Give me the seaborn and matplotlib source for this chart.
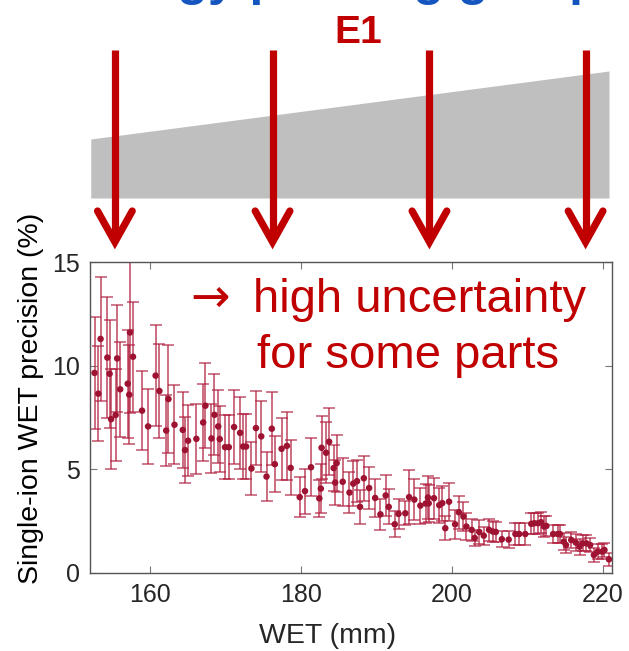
import numpy as np
import pandas as pd
import seaborn as sns
import matplotlib.pyplot as plt

# Single-ion WET precision vs WET
wet = [152.6, 153.1, 153.4, 154.3, 154.6, 154.8, 155.4, 155.6, 156.0, 157.0,
       157.2, 157.3, 157.7, 158.9, 159.7, 160.7, 161.2, 162.1, 162.4, 163.2,
       164.3, 164.6, 165.0, 166.1, 167.0, 167.3, 168.1, 168.5, 169.0, 169.2,
       169.9, 170.4, 171.1, 171.9, 172.3, 172.7, 173.4, 174.0, 174.7, 175.4,
       176.1, 176.5, 177.4, 178.1, 178.6, 179.8, 180.5, 181.3, 182.4, 182.6,
       182.7, 183.3, 183.7, 184.3, 184.5, 184.7, 185.5, 186.4, 186.9, 187.4,
       187.8, 188.3, 189.0, 189.8, 190.5, 191.2, 191.6, 192.4, 192.9, 193.8,
       194.3, 195.0, 195.8, 196.5, 196.8, 196.9, 197.6, 198.3, 198.7, 199.1,
       199.6, 200.4, 200.9, 201.5, 201.9, 202.6, 203.0, 203.6, 204.2, 204.9,
       205.4, 205.8, 206.6, 207.5, 208.4, 208.9, 209.7, 210.5, 210.9, 211.4,
       211.8, 212.2, 212.5, 213.4, 214.0, 214.3, 214.8, 215.1, 215.8, 216.4,
       216.9, 217.3, 217.8, 218.3, 218.8, 219.3, 219.9, 220.2, 220.8]
precision = [9.65, 8.65, 11.29, 10.39, 9.61, 7.42, 7.62, 10.35, 8.86, 9.13,
             8.60, 11.60, 10.43, 7.83, 7.07, 9.52, 8.78, 6.87, 8.39, 7.15,
             6.90, 5.93, 6.38, 6.47, 7.26, 8.07, 6.49, 7.63, 7.07, 6.46,
             6.07, 6.07, 7.04, 6.76, 6.10, 6.10, 5.04, 6.99, 6.59, 4.65,
             6.96, 5.25, 5.99, 6.13, 5.07, 3.66, 3.95, 5.10, 3.60, 4.07,
             6.04, 5.80, 6.33, 5.06, 4.36, 5.30, 4.40, 3.88, 4.31, 4.43,
             3.19, 4.57, 4.10, 3.62, 2.83, 3.74, 3.19, 2.35, 2.85, 2.88,
             3.66, 3.54, 3.25, 3.35, 3.64, 3.36, 3.61, 3.27, 3.37, 2.16,
             3.44, 2.35, 2.93, 2.72, 2.24, 2.08, 1.69, 1.98, 1.80, 2.08,
             2.00, 1.98, 1.63, 1.61, 1.88, 1.88, 1.88, 2.37, 2.40, 2.40,
             2.45, 2.24, 2.27, 1.88, 1.88, 1.88, 1.51, 1.35, 1.59, 1.47,
             1.27, 1.43, 1.43, 1.35, 0.87, 1.03, 1.03, 1.11, 0.66]
error = [2.70, 2.30, 3.00, 2.90, 2.60, 2.40, 2.20, 2.60, 2.30, 2.60,
         2.40, 3.90, 2.65, 1.90, 1.80, 2.45, 2.26, 1.73, 2.60, 1.90,
         1.85, 1.60, 1.70, 1.70, 1.85, 2.05, 1.65, 1.95, 1.75, 1.60,
         1.55, 1.55, 1.77, 1.75, 1.55, 1.55, 1.30, 1.78, 1.70, 1.20,
         1.77, 1.35, 1.50, 1.64, 1.33, 0.98, 1.09, 1.41, 0.90, 1.17,
         1.51, 1.47, 1.61, 1.11, 1.10, 1.38, 1.16, 1.00, 1.10, 1.00,
         0.83, 1.09, 1.00, 0.92, 0.76, 0.99, 0.85, 0.62, 0.71, 0.58,
         1.30, 0.99, 0.87, 0.94, 1.05, 0.90, 0.99, 0.85, 0.85, 0.58,
         0.92, 0.70, 0.80, 0.71, 0.67, 0.54, 0.40, 0.57, 0.44, 0.52,
         0.50, 0.50, 0.39, 0.40, 0.54, 0.54, 0.54, 0.50, 0.50, 0.50,
         0.50, 0.50, 0.49, 0.45, 0.45, 0.45, 0.40, 0.40, 0.40, 0.40,
         0.38, 0.38, 0.38, 0.35, 0.35, 0.35, 0.35, 0.35, 0.30]

x_ticks = [160, 180, 200, 220]
y_ticks = [0, 5, 10, 15]

# wedge (phantom) sketch and beam arrows above the plot, in WET units
wedge_wet = [152.1, 220.8]
wedge_top = [139, 71]        # pixel rows in the sketch panel
wedge_bottom = 198
arrow_wet = [155.3, 176.2, 197.0, 217.7]

df = pd.DataFrame({'wet': wet, 'precision': precision, 'error': error})

sns.set_style('ticks')
plt.rcParams['font.family'] = ['Liberation Sans', 'DejaVu Sans']

W, H = 629, 651
fig = plt.figure(figsize=(W / 100, H / 100), dpi=100)

def px(x, y):
    return x / W, 1 - y / H

red = '#C00000'
dot = '#9E1232'

ax = fig.add_axes([90 / W, 78 / H, 522 / W, 311 / H])
ax.errorbar(df['wet'], df['precision'], yerr=df['error'], fmt='none',
            ecolor='#B01E3E', alpha=0.65, elinewidth=1.4, capsize=4.5, capthick=1.3)
sns.scatterplot(data=df, x='wet', y='precision', ax=ax, color=dot, s=22,
                edgecolor='none', zorder=3)

ax.set_xlim(152, 221.2)
ax.set_ylim(0, 15)
ax.set_xticks(x_ticks)
ax.set_yticks(y_ticks)
for s in ax.spines.values():
    s.set_visible(True)
    s.set_color('#555555')
    s.set_linewidth(1.0)
ax.tick_params(direction='in', length=5, width=0.8, color='#777777',
               top=True, right=True, labelsize=18, labelcolor='#262626', pad=7)

ax.set_xlabel('WET (mm)', fontsize=20.5, color='#262626', va='top')
ax.set_ylabel('Single-ion WET precision (%)', fontsize=20.5, color='black')
ax.xaxis.set_label_coords((328 - 90) / 522, (573 - 623) / 311)
ax.yaxis.set_label_coords((44 - 90) / 522, (573 - 398) / 311)

# annotation inside the plot
fig.text(*px(190, 312), '\u2192', fontsize=34, color=red, va='baseline',
         ha='left', family='DejaVu Sans')
fig.text(*px(253, 312), 'high uncertainty', fontsize=34, color=red,
         va='baseline', ha='left')
fig.text(*px(257, 368), 'for some parts', fontsize=34, color=red,
         va='baseline', ha='left')

# sketch panel
top = fig.add_axes([90 / W, (H - 250) / H, 522 / W, 250 / H])
top.set_xlim(ax.get_xlim())
top.set_ylim(250, 0)
top.axis('off')
top.fill_between(wedge_wet, wedge_top, wedge_bottom, color='#BFBFBF', lw=0)
head_w, head_h = 2.3, 31
for xa in arrow_wet:
    top.plot([xa, xa], [50, 238], color=red, lw=5.2, solid_capstyle='butt')
    top.plot([xa - head_w, xa, xa + head_w], [242 - head_h, 242, 242 - head_h],
             color=red, lw=5.2, solid_capstyle='round', solid_joinstyle='miter')

fig.text(*px(358, 43), 'E1', fontsize=28, fontweight='bold', color=red,
         ha='center', va='baseline')
fig.text(66 / W, 1 + 5 / H, 'Energy painting groups', fontsize=36,
         fontweight='bold', color='#1555C0', ha='left', va='baseline')

fig.savefig('out.png', dpi=100)
